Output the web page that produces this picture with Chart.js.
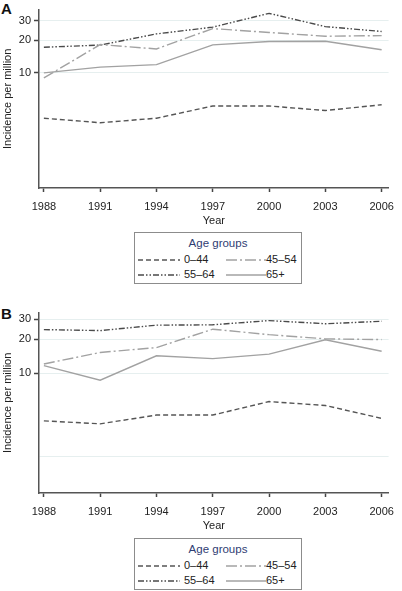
<!DOCTYPE html>
<html>
<head>
<meta charset="utf-8">
<script src="https://cdn.jsdelivr.net/npm/chart.js@4"></script>
<style>
  body { margin: 0; background: #fff; font-family: "Liberation Sans", Arial, sans-serif; }
  #page { position: relative; width: 402px; height: 591px; overflow: hidden; }
  .letter { position: absolute; left: 1px; font-size: 15px; line-height: 15px; font-weight: bold; color: #111; }
  canvas { position: absolute; left: 0; }
  .legend { position: absolute; left: 134px; width: 166px; height: 50px; border: 1px solid #8c8c8c; background: #fff; }
  .legend .ttl { position: absolute; left: 0; width: 100%; top: 4px; text-align: center; font-size: 11.5px; color: #2f3d73; }
  .legend .item { position: absolute; font-size: 11px; color: #222; line-height: 13px; }
  .legend svg { position: absolute; }
</style>
</head>
<body>
<div id="page">
  <div class="letter" style="top:1px">A</div>
  <canvas id="chartA" width="402" height="228" style="top:0px"></canvas>
  <div class="legend" id="legendA" style="top:232px"></div>

  <div class="letter" style="top:306px">B</div>
  <canvas id="chartB" width="402" height="230" style="top:303px"></canvas>
  <div class="legend" id="legendB" style="top:538px"></div>
</div>
<script>
var years = [1988, 1991, 1994, 1997, 2000, 2003, 2006];
var groups = ["0–44", "45–54", "55–64", "65+"];
var yTicks = [10, 20, 30];

// Panel A, incidence per million
var a0_44 = [3.84, 3.49, 3.84, 4.97, 4.97, 4.52, 5.1];
var a45_54 = [9.0, 18.2, 16.6, 25.5, 23.5, 21.7, 22.0];
var a55_64 = [17.2, 18.0, 22.8, 26.3, 35.2, 26.6, 24.0];
var a65 = [10.0, 11.3, 11.9, 18.1, 19.4, 19.5, 16.3];

// Panel B
var b0_44 = [3.79, 3.57, 4.27, 4.27, 5.62, 5.19, 3.99];
var b45_54 = [12.1, 15.3, 16.9, 24.6, 22.0, 20.2, 19.9];
var b55_64 = [24.4, 23.9, 26.7, 26.9, 29.3, 27.5, 28.9];
var b65 = [11.7, 8.7, 14.3, 13.5, 14.8, 19.8, 15.7];

// extra faint grid line seen in panel B
var extraGridB = [1.82];

var lineColors = ["#555555", "#a2a2a2", "#4a4a4a", "#a2a2a2"];
var lineDashes = [[5, 3], [11, 3, 2, 3], [6, 2, 1.5, 2, 1.5, 2], []];

function makeChart(id, series, yMin, yMax, extraGrid) {
  var ctx = document.getElementById(id).getContext("2d");
  var datasets = series.map(function (vals, i) {
    return {
      label: groups[i],
      data: years.map(function (y, j) { return { x: y, y: vals[j] }; }),
      borderColor: lineColors[i],
      borderDash: lineDashes[i],
      borderWidth: 1.4,
      pointRadius: 0,
      tension: 0,
      fill: false
    };
  });
  var allTicks = yTicks.concat(extraGrid);

  return new Chart(ctx, {
    type: "line",
    data: { datasets: datasets },
    options: {
      responsive: false,
      animation: false,
      layout: { padding: { top: 3, right: 6, left: 0, bottom: 0 } },
      plugins: { legend: { display: false }, tooltip: { enabled: false } },
      scales: {
        x: {
          type: "linear",
          min: 1987.74,
          max: 2006.37,
          bounds: "data",
          afterBuildTicks: function (s) { s.ticks = years.map(function (v) { return { value: v }; }); },
          afterFit: function (s) { s.height = 40; },
          grid: { drawOnChartArea: false, tickLength: 4, tickColor: "#444", tickWidth: 1.5 },
          border: { color: "#555", width: 1.5 },
          ticks: {
            font: { family: "Liberation Sans", size: 11 },
            color: "#222",
            padding: 8,
            maxRotation: 0,
            autoSkip: false,
            callback: function (v) { return String(v); }
          },
          title: {
            display: true,
            text: "Year",
            font: { family: "Liberation Sans", size: 11 },
            color: "#222",
            padding: { top: 0, bottom: 0 }
          }
        },
        y: {
          type: "logarithmic",
          min: yMin,
          max: yMax,
          bounds: "data",
          afterBuildTicks: function (s) { s.ticks = allTicks.map(function (v) { return { value: v }; }); },
          afterFit: function (s) { s.width = 39; },
          grid: {
            color: "#e6efef",
            lineWidth: 1,
            tickLength: 5,
            tickWidth: 1.5,
            tickColor: function (c) {
              return yTicks.indexOf(c.tick.value) >= 0 ? "#444" : "rgba(0,0,0,0)";
            }
          },
          border: { color: "#555", width: 1.5 },
          ticks: {
            font: { family: "Liberation Sans", size: 11 },
            color: "#222",
            padding: 3,
            autoSkip: false,
            callback: function (v) { return yTicks.indexOf(v) >= 0 ? String(v) : ""; }
          },
          title: {
            display: true,
            text: "Incidence per million",
            font: { family: "Liberation Sans", size: 11 },
            color: "#222",
            padding: { top: 1, bottom: 0 }
          }
        }
      }
    }
  });
}

function makeLegend(id) {
  var box = document.getElementById(id);
  var html = '<div class="ttl">Age groups</div>';
  // two columns, two rows
  var cols = [{ line: 3, w: 42, text: 49 }, { line: 91, w: 40, text: 131 }];
  var rows = [27, 42];
  for (var i = 0; i < groups.length; i++) {
    var c = cols[i % 2], r = rows[Math.floor(i / 2)];
    html += '<svg style="left:' + c.line + 'px;top:' + (r - 3) + 'px" width="' + c.w + '" height="6">' +
      '<line x1="0" y1="3" x2="' + c.w + '" y2="3" stroke="' + lineColors[i] + '" stroke-width="1.3"' +
      (lineDashes[i].length ? ' stroke-dasharray="' + lineDashes[i].join(",") + '"' : '') + '/></svg>';
    html += '<div class="item" style="left:' + c.text + 'px;top:' + (r - 7) + 'px">' + groups[i] + '</div>';
  }
  box.innerHTML = html;
}

makeChart("chartA", [a0_44, a45_54, a55_64, a65], 0.879, 38.1, []);
makeChart("chartB", [b0_44, b45_54, b55_64, b65], 0.871, 34.5, extraGridB);
makeLegend("legendA");
makeLegend("legendB");
</script>
</body>
</html>
